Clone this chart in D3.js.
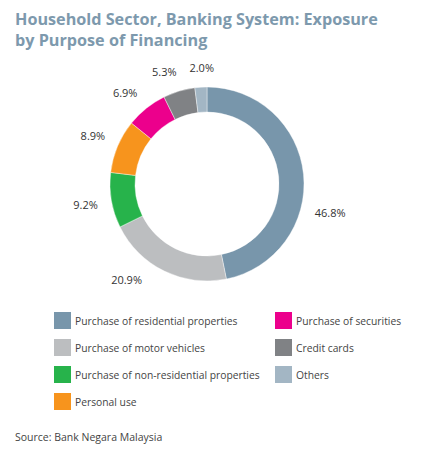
<!DOCTYPE html>
<html>
<head>
<meta charset="utf-8">
<script src="https://cdn.jsdelivr.net/npm/d3@7"></script>
<style>
  html, body { margin: 0; padding: 0; background: #fff; }
  svg { display: block; }
</style>
</head>
<body>
<svg id="chart" width="424" height="455"></svg>
<script>
// ---- data ----
const categories = [
  "Purchase of residential properties",
  "Purchase of motor vehicles",
  "Purchase of non-residential properties",
  "Personal use",
  "Purchase of securities",
  "Credit cards",
  "Others"
];
const values = [46.8, 20.9, 9.2, 8.9, 6.9, 5.3, 2.0];
const valueLabels = ["46.8%", "20.9%", "9.2%", "8.9%", "6.9%", "5.3%", "2.0%"];
const colors = ["#7896ab", "#bcbec0", "#27b34b", "#f7941d", "#ec008c", "#808285", "#a3b6c4"];
const titleLines = ["Household Sector, Banking System: Exposure", "by Purpose of Financing"];
const sourceText = "Source: Bank Negara Malaysia";

// ---- drawing ----
const svg = d3.select("#chart");
const FONT = "'Open Sans', 'Noto Sans', sans-serif";

// title
const title = svg.append("text")
  .attr("font-family", FONT)
  .attr("font-weight", "bold")
  .attr("font-size", 16.2)
  .attr("fill", "#7d99ad");
title.selectAll("tspan").data(titleLines).join("tspan")
  .attr("x", 15)
  .attr("y", (d, i) => 25 + i * 21)
  .text(d => d);

// donut
const cx = 207, cy = 184, outerR = 97, innerR = 72;
const pie = d3.pie().sort(null).value(d => d.value);
const arcs = pie(values.map((v, i) => ({ value: v, i })));
const arc = d3.arc().innerRadius(innerR).outerRadius(outerR);

const g = svg.append("g").attr("transform", `translate(${cx},${cy})`);
g.selectAll("path").data(arcs).join("path")
  .attr("d", arc)
  .attr("fill", d => colors[d.data.i])
  .attr("stroke", "#fff")
  .attr("stroke-width", 0.4);

// labels: placed outside, box edge at fixed gap from ring
const labelGap = 110;
// larger slices get their label nudged (degrees) as in the original layout
const labelAngleShift = [19, 14, 0, 0, -3, -4, 1];
const labels = g.selectAll("text.lbl").data(arcs).join("text")
  .attr("class", "lbl")
  .attr("font-family", FONT)
  .attr("font-size", 11)
  .attr("fill", "#333")
  .attr("text-anchor", "middle")
  .attr("dominant-baseline", "central")
  .text(d => valueLabels[d.data.i]);
labels.each(function(d) {
  const bb = this.getBBox();
  const hw = bb.width / 2, hh = bb.height / 2 - 1;
  const a = (d.startAngle + d.endAngle) / 2 + labelAngleShift[d.data.i] * Math.PI / 180;
  const sx = Math.sin(a), cy_ = -Math.cos(a);
  const dist = labelGap + Math.abs(sx) * hw + Math.abs(cy_) * hh;
  d3.select(this).attr("x", sx * dist).attr("y", cy_ * dist);
});

// legend
const legend = svg.append("g");
const items = legend.selectAll("g").data(categories).join("g")
  .attr("transform", (d, i) => {
    const col = Math.floor(i / 4), row = i % 4;
    return `translate(${54 + col * 221},${312 + row * 27})`;
  });
items.append("rect")
  .attr("width", 17).attr("height", 17)
  .attr("fill", (d, i) => colors[i]);
items.append("text")
  .attr("x", 21).attr("y", 9)
  .attr("dominant-baseline", "central")
  .attr("font-family", FONT)
  .attr("font-size", 10.3)
  .attr("fill", "#444")
  .text(d => d);

// source
svg.append("text")
  .attr("x", 15).attr("y", 437)
  .attr("dominant-baseline", "central")
  .attr("font-family", FONT)
  .attr("font-size", 10.5)
  .attr("fill", "#444")
  .text(sourceText);
</script>
</body>
</html>
